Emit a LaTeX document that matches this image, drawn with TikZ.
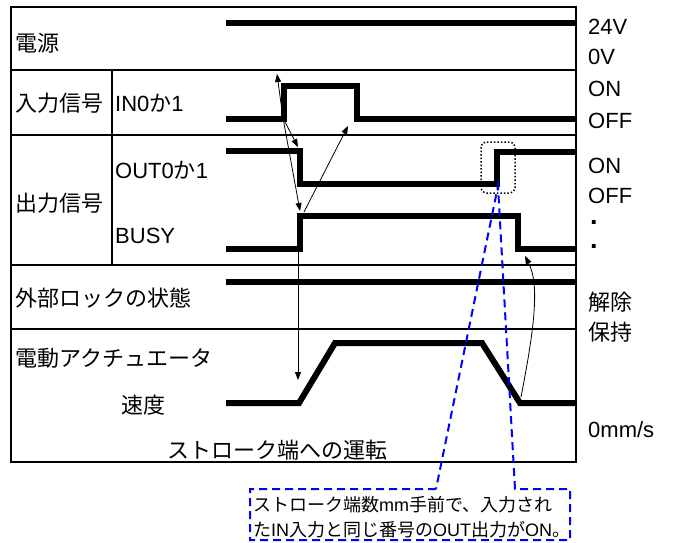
\documentclass[tikz,border=0pt]{standalone}
\usepackage{fontspec}
\setmainfont{Liberation Sans}
\newfontfamily\jp{Noto Sans CJK JP}
\usetikzlibrary{arrows.meta}

\begin{document}
\begin{tikzpicture}[x=1pt, y=-1pt,
    every node/.style={font=\fontsize{22}{24}\selectfont, inner sep=0pt},
    lbl/.style={anchor=west},
    jlbl/.style={anchor=west, font=\jp\fontsize{22}{24}\selectfont},
    dot/.style={anchor=base west, font=\bfseries\fontsize{27}{28}\selectfont},
    grid/.style={line width=1.6pt},
    sig/.style={line width=6pt, line join=miter},
    arr/.style={-{Triangle[length=8pt, width=6pt]}, line width=0.8pt},
    callout/.style={blue, line width=2pt, dash pattern=on 8pt off 5pt},
]
\useasboundingbox (0,0) rectangle (675,542);

% frame and rows
\draw[line width=2pt] (11,7) rectangle (576,462);
\draw[grid] (11,70) -- (576,70);
\draw[grid] (11,135) -- (576,135);
\draw[grid] (11,265) -- (576,265);
\draw[grid] (11,329) -- (576,329);
\draw[grid] (112,70) -- (112,265);

% row labels
\node[jlbl] (power) at (15,43) {電源};
\node[jlbl] (input) at (15,103) {入力信号};
\node[lbl] (in01) at (115,103) {IN0{\jp か}1};
\node[lbl] (out01) at (115,170) {OUT0{\jp か}1};
\node[jlbl] (output) at (15,203) {出力信号};
\node[lbl] (busy) at (115,236) {BUSY};
\node[jlbl] (lock) at (15,298) {外部ロックの状態};
\node[jlbl] (actuator) at (15,358) {電動アクチュエータ};
\node[font=\jp\fontsize{22}{24}\selectfont] (speed) at (143,405) {速度};
\node[font=\jp\fontsize{22}{24}\selectfont] (stroke) at (277,450) {ストローク端への運転};

% level labels
\node[lbl] (v24) at (588,27) {24V};
\node[lbl] (v0) at (588,57) {0V};
\node[lbl] (inOn) at (588,89) {ON};
\node[lbl] (inOff) at (588,121) {OFF};
\node[lbl] (outOn) at (588,166) {ON};
\node[lbl] (outOff) at (588,196) {OFF};
\node[dot] (dotA) at (590,224) {.};
\node[dot] (dotB) at (590,248) {.};
\node[jlbl] (release) at (588,302) {解除};
\node[jlbl] (hold) at (588,332) {保持};
\node[anchor=base west] (zero) at (588,437) {0mm/s};

% signals
\draw[sig] (226,23) -- (576,23);
\draw[sig] (226,119) -- (284,119) -- (284,86) -- (357,86) -- (357,119) -- (576,119);
\draw[sig] (226,151) -- (300,151) -- (300,184) -- (497,184) -- (497,152) -- (576,152);
\draw[sig] (226,249) -- (300,249) -- (300,216) -- (518,216) -- (518,249) -- (576,249);
\draw[sig] (226,282) -- (576,282);
\draw[sig] (226,403) -- (299,403) -- (335,343) -- (482,343) -- (520,403) -- (576,403);

% points for the arrows
\coordinate (inRise) at (283,118);
\coordinate (inTop) at (277,74);
\coordinate (outFall) at (298,147);
\coordinate (busyRise) at (300,211);
\coordinate (busyFoot) at (304,212);
\coordinate (inFall) at (348,126);
\coordinate (busyLow) at (298,252);
\coordinate (rampStart) at (298,380);
\coordinate (stopPt) at (521,397);
\coordinate (busyFall) at (525,256);

\draw[arr] (inRise) -- (inTop);
\draw[arr] (inRise) -- (outFall);
\draw[arr] (inRise) -- (busyRise);
\draw[arr] (busyFoot) -- (inFall);
\draw[arr] (busyLow) -- (rampStart);
\draw[arr] (stopPt) .. controls (534,330) and (540,285) .. (busyFall);

% callout
\draw[black, dotted, line width=1.5pt, rounded corners=5pt] (481,142) rectangle (515,193);
\coordinate (tip) at (498,186);
\draw[callout] (436,489) -- (250,489) -- (250,540) -- (570,540) -- (570,489) -- (515,489) -- (tip) -- cycle;
\node[anchor=west] (noteA) at (253,505) {{\jp\fontsize{18}{20}\selectfont ストローク端数}\fontsize{18}{20}\selectfont mm{\jp\fontsize{18}{20}\selectfont 手前で、入力され}};
\node[anchor=west] (noteB) at (253,530) {{\jp\fontsize{18}{20}\selectfont た}\fontsize{18}{20}\selectfont IN{\jp\fontsize{18}{20}\selectfont 入力と同じ番号の}\fontsize{18}{20}\selectfont OUT{\jp\fontsize{18}{20}\selectfont 出力が}\fontsize{18}{20}\selectfont ON{\jp\fontsize{18}{20}\selectfont 。}};

\end{tikzpicture}
\end{document}
